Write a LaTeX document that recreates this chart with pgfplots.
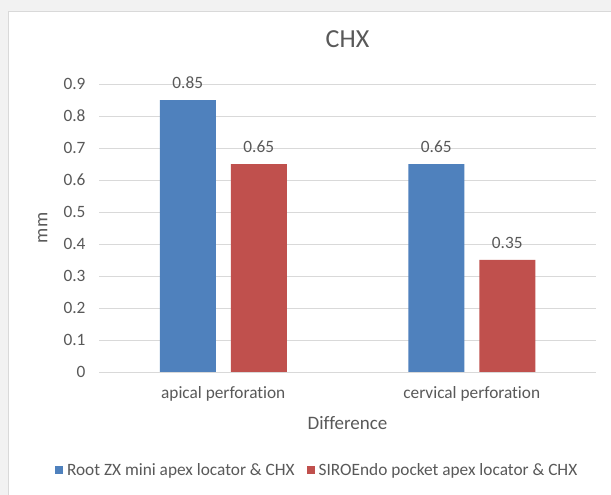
\documentclass[border=0pt]{standalone}
\usepackage{pgfplots}
\pgfplotsset{compat=1.18}
\usepackage{fontspec}
\setmainfont{Carlito}[Ligatures=NoCommon]
\definecolor{barblue}{HTML}{4F81BD}
\definecolor{barred}{HTML}{C0504D}
\definecolor{txt}{HTML}{595959}
\definecolor{gridc}{HTML}{D9D9D9}
\definecolor{outer}{HTML}{F2F2F2}
\begin{document}
\begin{tikzpicture}[x=1pt,y=1pt]
\useasboundingbox (0,0) rectangle (611,495);
\fill[outer] (0,0) rectangle (611,495);
\filldraw[fill=white,draw=gridc,line width=1pt] (8,-5) rectangle (620,483);
\begin{axis}[
  at={(99pt,123pt)}, anchor=south west,
  scale only axis, width=497pt, height=288pt,
  xmin=-0.5, xmax=1.5, ymin=0, ymax=0.9,
  ytick={0,0.1,...,0.9},
  yticklabels={0,0.1,0.2,0.3,0.4,0.5,0.6,0.7,0.8,0.9},
  xtick={0,1}, xticklabels={apical perforation,cervical perforation},
  major tick length=0pt,
  axis line style={draw=none},
  ymajorgrids, grid style={gridc,line width=0.8pt},
  ticklabel style={font=\fontsize{17.3}{20}\selectfont, text=txt},
  yticklabel style={xshift=-10pt},
  xticklabel style={anchor=center, yshift=-22pt},
  /pgf/number format/assume math mode=true,
  title={CHX},
  title style={font=\fontsize{26}{30}\selectfont, text=txt, at={(axis description cs:0.5,1.135)}, anchor=center},
  xlabel={Difference},
  xlabel style={font=\fontsize{19}{22}\selectfont, text=txt, at={(axis description cs:0.5,-0.177)}, anchor=center},
  ylabel={mm},
  ylabel style={font=\fontsize{19}{22}\selectfont, text=txt, at={(axis description cs:-0.113,0.5)}, anchor=center},
  ybar, bar width=56pt,
  nodes near coords,
  nodes near coords style={font=\fontsize{17.3}{20}\selectfont, text=txt, anchor=south, yshift=8pt,
    /pgf/number format/fixed, /pgf/number format/precision=2, /pgf/number format/assume math mode=true},
  legend style={at={(axis description cs:0.439,-0.34)}, anchor=center, draw=none, fill=none,
    legend columns=2, font=\fontsize{17.3}{20}\selectfont, text=txt,
    /tikz/every even column/.append style={column sep=10pt},
    /tikz/every odd column/.append style={column sep=2pt}},
  legend image code/.code={\fill[#1] (0pt,-4pt) rectangle (8pt,4pt);},
]
\addplot[fill=barblue, draw=none, bar shift=-35.5pt] coordinates {(0,0.85) (1,0.65)};
\addplot[fill=barred, draw=none, bar shift=35.5pt] coordinates {(0,0.65) (1,0.35)};
\legend{Root ZX mini apex locator \& CHX, SIROEndo pocket apex locator \& CHX}
\end{axis}
\end{tikzpicture}
\end{document}
